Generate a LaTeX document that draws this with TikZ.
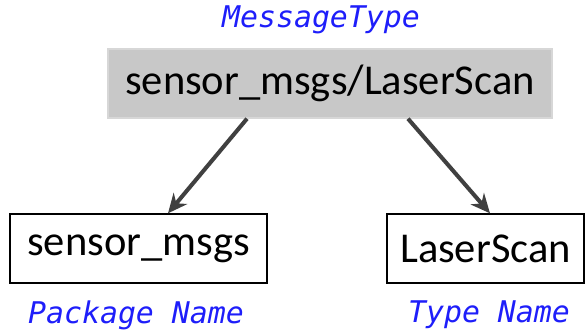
\documentclass[tikz,border=0pt]{standalone}
\usepackage{fontspec}
\setmainfont{Carlito}
\newfontfamily\monofont{DejaVu Sans Mono}
\usepackage{xcolor}
\usepackage{tikz}
\usetikzlibrary{arrows.meta}
\definecolor{msgblue}{RGB}{30, 30, 250}
\definecolor{msggray}{RGB}{200, 200, 200}
\definecolor{msgedge}{RGB}{215, 215, 215}
\definecolor{msgarrow}{RGB}{64, 64, 64}

\begin{document}
\begin{tikzpicture}[x=0.02cm, y=0.02cm,
  namebox/.style={draw=black, line width=0.8pt, minimum height=1.38cm, inner sep=0pt, font=\fontsize{24.2}{27}\selectfont},
  tag/.style={text=msgblue, font=\monofont\itshape\fontsize{17}{20}\selectfont},
  arr/.style={msgarrow, line width=2.3pt, -{Stealth[length=11pt, width=10pt]}}]
\useasboundingbox (0,0) rectangle (586,330);
\node[tag] (msgtag) at (321,310) {MessageType};
\node[namebox, fill=msggray, draw=msgedge, minimum width=8.88cm] (full) at (330,246.5) {sensor\_msgs/LaserScan};
\node[namebox, minimum width=5.14cm] (pkg) at (138.5,81.5) {sensor\_msgs};
\node[namebox, minimum width=3.94cm] (type) at (485.5,81.5) {LaserScan};
\node[tag] (pkgtag) at (136,15) {Package Name};
\node[tag] (typetag) at (489,15) {Type Name};

\draw[arr] ([shift={(-83,0)}]full.south) -- ([shift={(29.5,0)}]pkg.north);
\draw[arr] ([shift={(78,0)}]full.south) -- ([shift={(4.5,0)}]type.north);
\end{tikzpicture}
\end{document}
